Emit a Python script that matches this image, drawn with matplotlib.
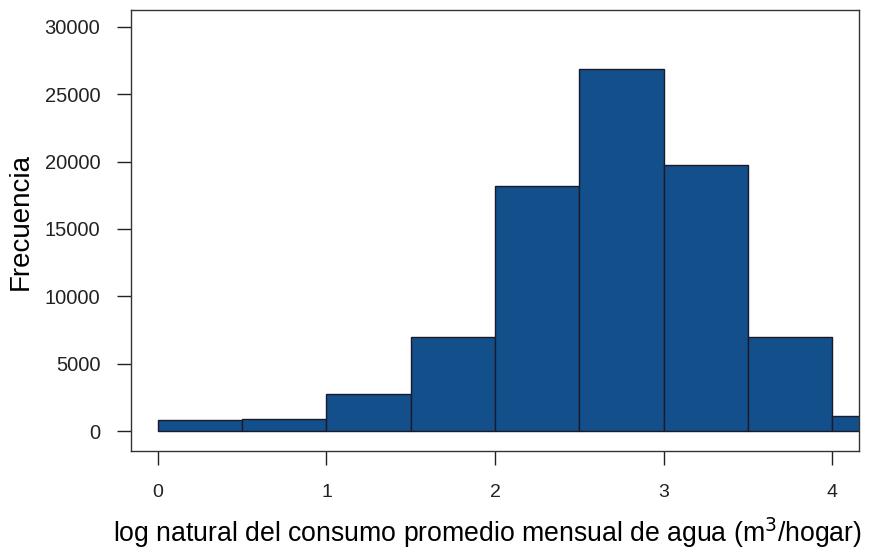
import matplotlib
matplotlib.use("Agg")
import matplotlib.pyplot as plt

bin_edges = [0.0, 0.5, 1.0, 1.5, 2.0, 2.5, 3.0, 3.5, 4.0, 4.5]
counts = [820, 890, 2750, 6980, 18190, 26880, 19750, 6980, 1110]
x_ticks = [0, 1, 2, 3, 4]
y_ticks = [0, 5000, 10000, 15000, 20000, 25000, 30000]

plt.rcParams['font.family'] = ['Liberation Sans', 'DejaVu Sans']

fig = plt.figure(figsize=(8.91, 5.52), dpi=100)
ax = fig.add_axes([131/891, 101/552, (859-131)/891, (451-10)/552])

lefts = bin_edges[:-1]
widths = [b - a for a, b in zip(bin_edges[:-1], bin_edges[1:])]
ax.bar(lefts, counts, width=widths, align='edge', color='#134f8a',
       edgecolor='#1a1a2a', linewidth=1.0)

ax.set_xlim(-0.16, 4.16)
ax.set_ylim(-1485, 31260)
ax.set_xticks(x_ticks)
ax.set_xticklabels([str(t) for t in x_ticks])
ax.set_yticks(y_ticks)
ax.set_yticklabels([str(t) for t in y_ticks])
ax.tick_params(axis='y', length=10, width=1.0, pad=12, labelsize=14.5, colors='#222222')
ax.tick_params(axis='x', length=10, width=1.0, pad=14, labelsize=14, colors='#222222')
for s in ax.spines.values():
    s.set_linewidth(1.0)
    s.set_color('#333333')

ax.set_ylabel('Frecuencia', fontsize=20)
ax.yaxis.set_label_coords(-0.133, 0.52)
ax.set_xlabel('log natural del consumo promedio mensual de agua (m$^3$/hogar)',
              fontsize=19.2)
ax.xaxis.set_label_coords(0.49, -0.147)

fig.savefig('out.png', dpi=100)
